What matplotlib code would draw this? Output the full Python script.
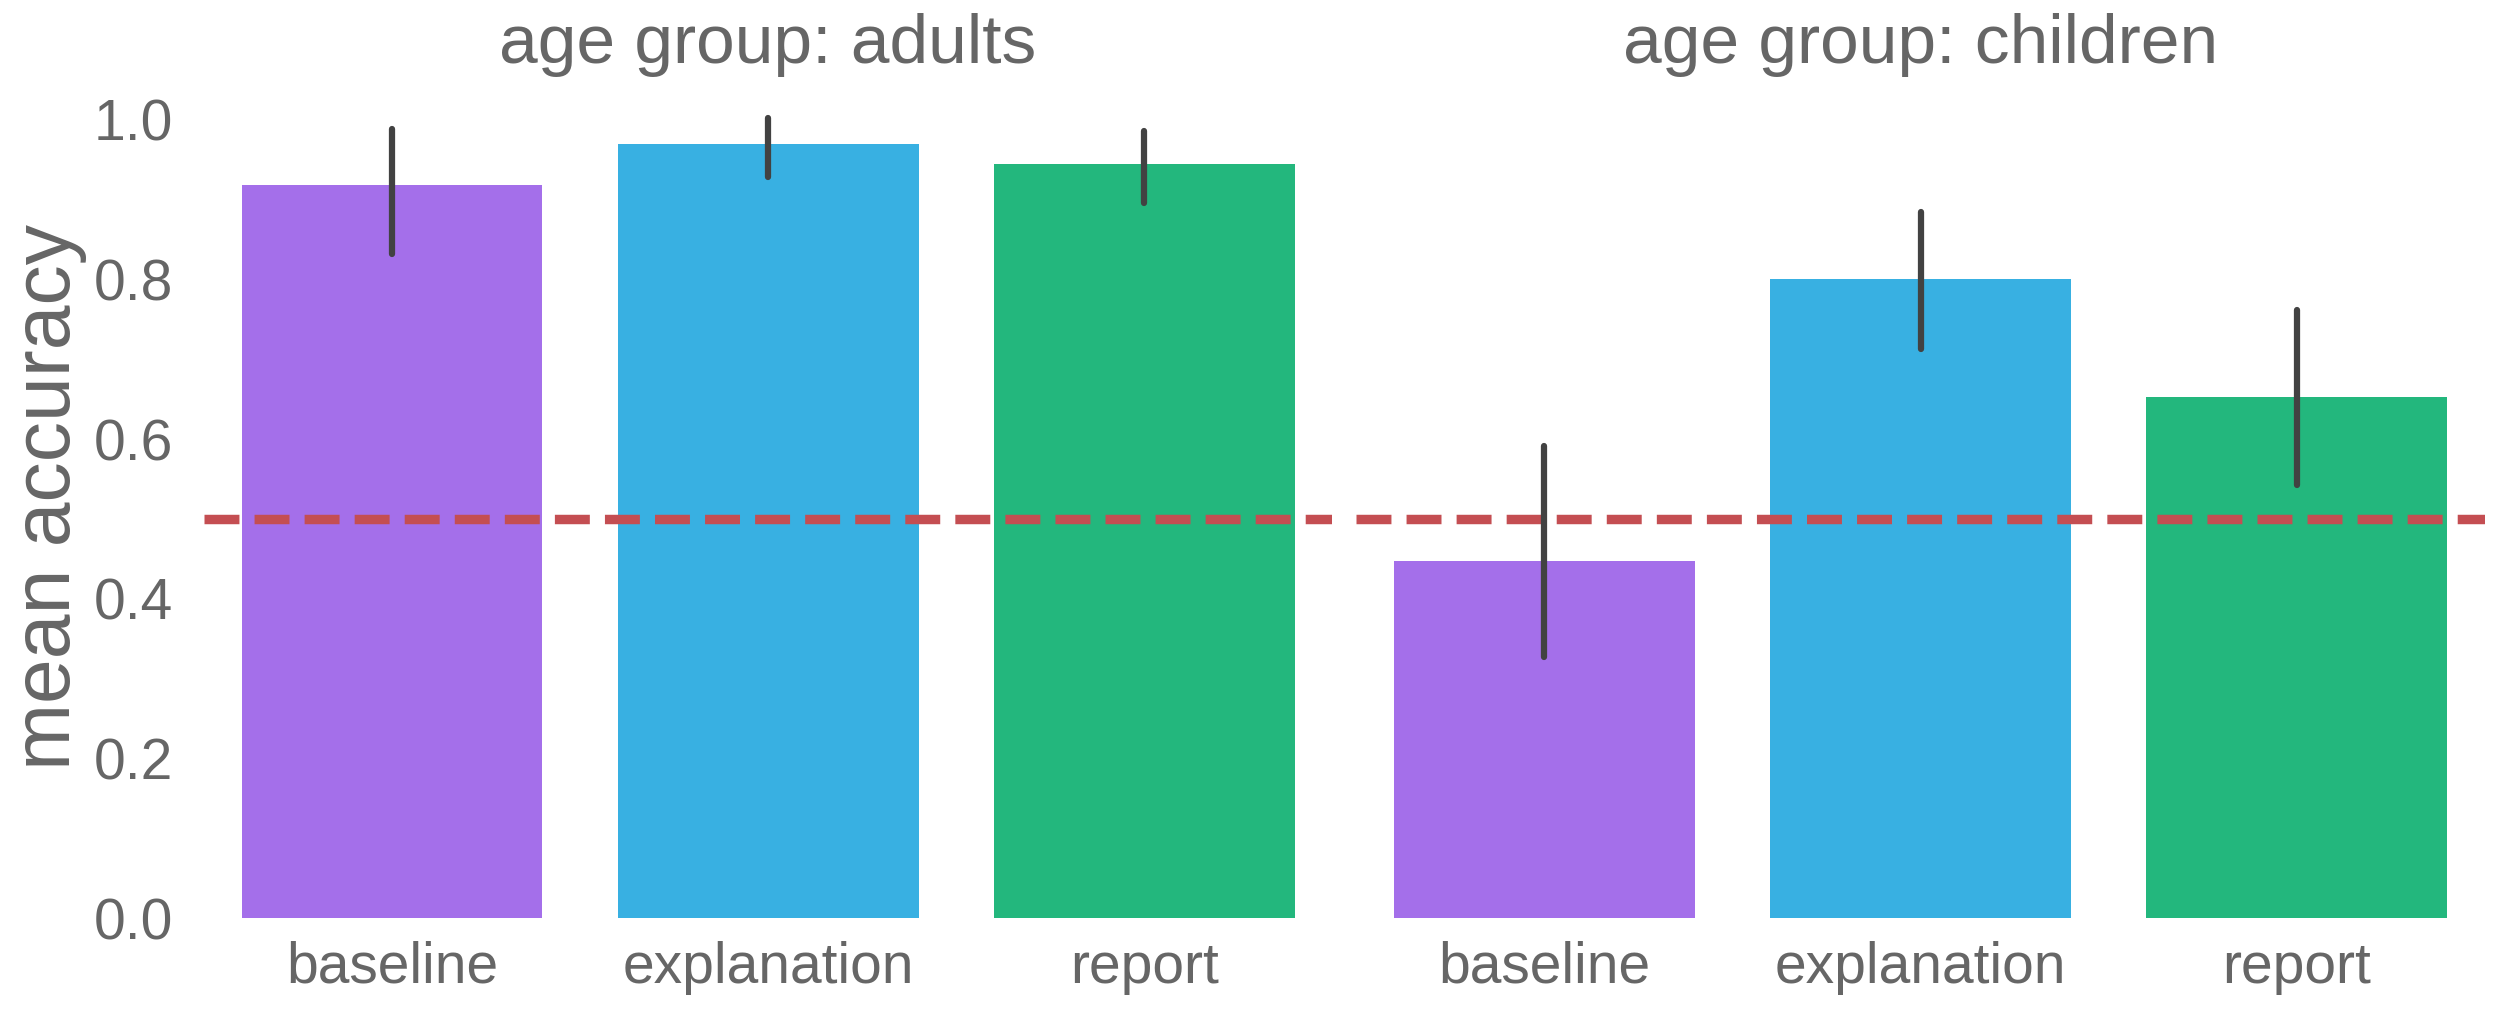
import numpy as np
import matplotlib
matplotlib.use('Agg')
import matplotlib.pyplot as plt

plt.rcParams['font.family'] = ['Liberation Sans', 'DejaVu Sans']

conditions = ['baseline', 'explanation', 'report']
groups = ['adults', 'children']
colors = ['#A46FEA', '#38B0E2', '#23B77D']

means = {
	'adults': [0.918, 0.970, 0.944],
	'children': [0.447, 0.800, 0.653],
}
ci_low = {
	'adults': [0.832, 0.928, 0.896],
	'children': [0.327, 0.713, 0.543],
}
ci_high = {
	'adults': [0.988, 1.002, 0.986],
	'children': [0.591, 0.884, 0.762],
}
chance = 0.5

text_col = '#666666'

fig = plt.figure(figsize=(25, 10.11), dpi=100)
ax_l = fig.add_axes([0.0816, 0.0916, 0.4513, 0.8327])
ax_r = fig.add_axes([0.5424, 0.0916, 0.4516, 0.8327], sharey=ax_l)

for ax, g in zip([ax_l, ax_r], groups):
	x = np.arange(len(conditions))
	m = np.array(means[g])
	ax.bar(x, m, width=0.8, color=colors, edgecolor='none', zorder=1)
	for xi, lo, hi in zip(x, ci_low[g], ci_high[g]):
		ax.plot([xi, xi], [lo, hi], color='#424242', lw=4.5,
			solid_capstyle='round', zorder=3)
	ax.axhline(chance, color='#C44E52', ls='--', lw=6.8, zorder=2)
	ax.set_xlim(-0.5, len(conditions) - 0.5)
	ax.set_xticks(x)
	ax.set_xticklabels(conditions)
	ax.set_title('age group: ' + g, fontsize=50, color=text_col, pad=8)
	for s in ax.spines.values():
		s.set_visible(False)
	ax.tick_params(axis='both', length=0, labelsize=41, colors=text_col)
	ax.tick_params(axis='x', pad=16)
	ax.tick_params(axis='y', pad=22)

ax_l.set_ylim(0, 1.054)
ax_l.set_yticks([0.0, 0.2, 0.4, 0.6, 0.8, 1.0])
ax_l.set_ylabel('mean accuracy', fontsize=58, color=text_col, labelpad=5)
ax_r.tick_params(axis='y', labelleft=False)

fig.savefig('out.png', dpi=100, facecolor='white')
